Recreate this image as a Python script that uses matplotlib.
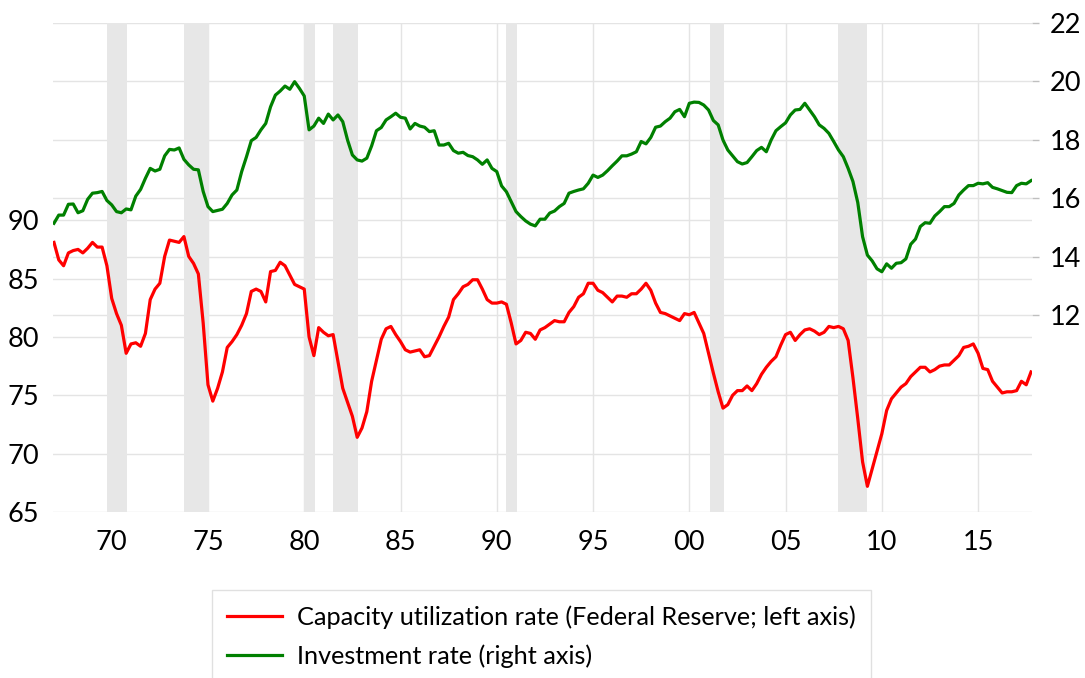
import numpy as np
import matplotlib
matplotlib.use("Agg")
import matplotlib.pyplot as plt
from matplotlib.transforms import blended_transform_factory

# quarterly data, 1967Q1 onward
start_year = 1967

cap_util = [88.1, 86.6, 86.1, 87.2, 87.4, 87.5, 87.2, 87.6, 88.1, 87.7, 87.7, 86.1, 83.3, 82.0, 81.0, 78.6,
            79.4, 79.5, 79.2, 80.3, 83.2, 84.1, 84.6, 86.9, 88.3, 88.2, 88.1, 88.6, 86.9, 86.3, 85.4, 81.2,
            75.9, 74.5, 75.6, 77.0, 79.1, 79.6, 80.2, 81.0, 82.0, 83.9, 84.1, 83.9, 83.0, 85.6, 85.7, 86.4,
            86.1, 85.3, 84.5, 84.3, 84.1, 80.0, 78.4, 80.8, 80.4, 80.1, 80.2, 77.9, 75.6, 74.4, 73.2, 71.4,
            72.2, 73.6, 76.2, 78.0, 79.8, 80.7, 80.9, 80.2, 79.6, 78.9, 78.7, 78.8, 78.9, 78.3, 78.4, 79.2,
            80.0, 80.9, 81.7, 83.2, 83.7, 84.3, 84.5, 84.9, 84.9, 84.1, 83.2, 82.9, 82.9, 83.0, 82.8, 81.2,
            79.4, 79.7, 80.4, 80.3, 79.8, 80.6, 80.8, 81.1, 81.4, 81.3, 81.3, 82.1, 82.6, 83.4, 83.7, 84.6,
            84.6, 84.0, 83.8, 83.4, 83.0, 83.5, 83.5, 83.4, 83.7, 83.7, 84.1, 84.6, 84.0, 82.9, 82.1, 82.0,
            81.8, 81.6, 81.4, 82.0, 81.9, 82.1, 81.2, 80.3, 78.6, 76.9, 75.3, 73.9, 74.2, 75.0, 75.4, 75.4,
            75.8, 75.4, 76.0, 76.8, 77.4, 77.9, 78.3, 79.3, 80.2, 80.4, 79.7, 80.2, 80.6, 80.7, 80.5, 80.2,
            80.4, 80.9, 80.8, 80.9, 80.7, 79.7, 76.5, 73.0, 69.3, 67.2, 68.7, 70.2, 71.7, 73.7, 74.7, 75.2,
            75.7, 76.0, 76.6, 77.0, 77.4, 77.4, 77.0, 77.2, 77.5, 77.6, 77.6, 78.0, 78.4, 79.1, 79.2, 79.4,
            78.6, 77.3, 77.2, 76.2, 75.7, 75.2, 75.3, 75.3, 75.4, 76.2, 75.9, 77.0]

inv_rate = [15.14, 15.42, 15.42, 15.79, 15.80, 15.50, 15.57, 15.96, 16.17, 16.19, 16.23, 15.92, 15.77, 15.54,
            15.50, 15.63, 15.60, 16.07, 16.30, 16.68, 17.02, 16.93, 16.99, 17.45, 17.67, 17.65, 17.72, 17.33,
            17.14, 16.99, 16.97, 16.23, 15.71, 15.54, 15.58, 15.62, 15.82, 16.11, 16.28, 16.91, 17.42, 17.97,
            18.08, 18.34, 18.56, 19.13, 19.53, 19.67, 19.84, 19.73, 19.99, 19.76, 19.50, 18.34, 18.47, 18.74,
            18.56, 18.88, 18.68, 18.85, 18.62, 17.99, 17.48, 17.31, 17.27, 17.37, 17.79, 18.31, 18.42, 18.68,
            18.79, 18.91, 18.77, 18.74, 18.37, 18.56, 18.47, 18.43, 18.28, 18.31, 17.82, 17.82, 17.88, 17.63,
            17.54, 17.57, 17.46, 17.42, 17.31, 17.16, 17.31, 17.02, 16.91, 16.42, 16.22, 15.88, 15.54, 15.37,
            15.22, 15.11, 15.05, 15.28, 15.28, 15.49, 15.56, 15.71, 15.82, 16.17, 16.23, 16.28, 16.32, 16.51,
            16.79, 16.71, 16.79, 16.94, 17.11, 17.27, 17.45, 17.45, 17.51, 17.59, 17.94, 17.86, 18.08, 18.43,
            18.47, 18.62, 18.74, 18.96, 19.04, 18.79, 19.25, 19.29, 19.28, 19.19, 19.02, 18.66, 18.51, 17.99,
            17.65, 17.45, 17.25, 17.17, 17.22, 17.42, 17.63, 17.74, 17.59, 17.99, 18.31, 18.45, 18.58, 18.85,
            19.02, 19.04, 19.25, 19.02, 18.79, 18.51, 18.39, 18.22, 17.94, 17.65, 17.42, 17.02, 16.57, 15.85,
            14.68, 14.05, 13.85, 13.58, 13.48, 13.75, 13.60, 13.77, 13.79, 13.92, 14.42, 14.60, 15.03, 15.16,
            15.14, 15.39, 15.54, 15.71, 15.71, 15.82, 16.11, 16.28, 16.43, 16.43, 16.51, 16.49, 16.53, 16.37,
            16.32, 16.26, 16.20, 16.19, 16.43, 16.51, 16.49, 16.60]

# recessions (start, end) in fractional years
rec_start = [1969.75, 1973.75, 1980.0, 1981.5, 1990.5, 2001.05, 2007.7]
rec_end = [1970.8, 1975.05, 1980.55, 1982.8, 1991.05, 2001.8, 2009.25]

year_ticks = [1970, 1975, 1980, 1985, 1990, 1995, 2000, 2005, 2010, 2015]
year_labels = ["70", "75", "80", "85", "90", "95", "00", "05", "10", "15"]
left_ticks = [65, 70, 75, 80, 85, 90]
right_ticks = [12, 14, 16, 18, 20, 22]

plt.rcParams["font.family"] = ["Lato", "DejaVu Sans"]

fig = plt.figure(figsize=(10.85, 6.78), dpi=100)
ax = fig.add_axes([53 / 1085, 1 - 512 / 678, (1032 - 53) / 1085, (512 - 23) / 678])
ax2 = ax.twinx()

x = start_year + np.arange(len(cap_util)) / 4

ax.set_xlim(start_year - 0.05, x[-1] + 0.05)
ax.set_ylim(65, 106.9)
ax2.set_ylim(5.25, 22)

# all gridlines and recession bars live on the lower axes
grid_col = "#e4e4e4"
for t in left_ticks:
    ax.axhline(t, color=grid_col, lw=1, zorder=0)
right_tr = blended_transform_factory(ax.transAxes, ax2.transData)
for t in right_ticks:
    ax.plot([0, 1], [t, t], transform=right_tr, color=grid_col, lw=1, zorder=0)
for t in year_ticks:
    ax.axvline(t, color=grid_col, lw=1, zorder=0)
for s, e in zip(rec_start, rec_end):
    ax.axvspan(s, e, color="#e7e7e7", lw=0, zorder=1)

ax.plot(x, cap_util, color="#ff0000", lw=2.3, zorder=3,
        label="Capacity utilization rate (Federal Reserve; left axis)")
ax2.plot(x, inv_rate, color="#008000", lw=2.3, zorder=3, label="Investment rate (right axis)")

ax.set_xticks(year_ticks)
ax.set_xticklabels(year_labels)
ax.set_yticks(left_ticks)
ax2.set_yticks(right_ticks)

for a in (ax, ax2):
    for sp in a.spines.values():
        sp.set_visible(False)

ax.tick_params(axis="x", length=0, pad=13, labelsize=19.5)
ax.tick_params(axis="y", length=0, pad=10, labelsize=19.5)
ax2.tick_params(axis="y", length=5, width=1, color="#bfbfbf", pad=8, labelsize=19.5)

h1, l1 = ax.get_legend_handles_labels()
h2, l2 = ax2.get_legend_handles_labels()
leg = fig.legend(h1 + h2, l1 + l2, loc="upper left", bbox_to_anchor=(212 / 1085, 1 - 590 / 678),
                 borderaxespad=0, fontsize=18.2, frameon=True, fancybox=False, borderpad=0.6,
                 labelspacing=0.6, handlelength=2.15, handletextpad=0.6)
leg.get_frame().set_edgecolor("#d9d9d9")
leg.get_frame().set_linewidth(1)

plt.savefig("out.png", dpi=100)
